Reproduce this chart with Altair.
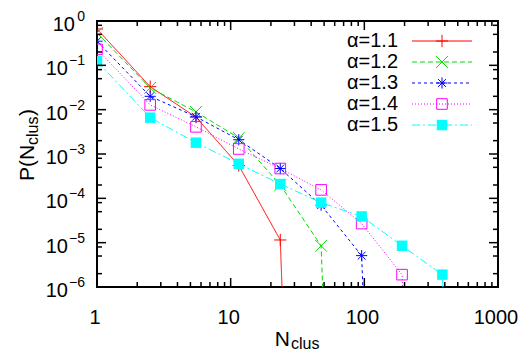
import altair as alt
import pandas as pd

# ---------------- data ----------------
series = ["α=1.1", "α=1.2", "α=1.3", "α=1.4", "α=1.5"]
colors = ["#ff0000", "#00dd00", "#0000ff", "#ff00ff", "#00ffff"]
dashes = [[1, 0], [5, 3], [3, 3], [1, 2], [8, 3, 2, 3]]

x_bins = [1, 2.5, 5.5, 11.5, 23.5, 47.5, 95.5, 191.5, 383.5, 767.5]
p_11 = [0.66, 0.033, 0.0068, 5.5e-4, 1.15e-5]
p_12 = [0.54, 0.031, 0.0089, 2.3e-3, 2.0e-4, 8.5e-6]
p_13 = [0.35, 0.020, 0.0069, 2.1e-3, 4.7e-4, 7.0e-5, 5.1e-6]
p_14 = [0.23, 0.0128, 0.0041, 1.3e-3, 4.7e-4, 1.55e-4, 2.7e-5, 1.9e-6]
p_15 = [0.125, 0.0066, 0.0018, 6.0e-4, 2.1e-4, 8.0e-5, 3.9e-5, 8.5e-6, 1.9e-6]
p_zero = 1e-30  # empty bin after the last point (line drops to the axis)

y_decades = [1e-6, 1e-5, 1e-4, 1e-3, 1e-2, 1e-1, 1]
y_exps = ["−6", "−5", "−4", "−3", "−2", "−1", "0"]
y_minor_mult = [2, 5, 8]
x_decades = [1, 10, 100, 1000]
x_labels = ["1", "10", "100", "1000"]
x_minor_mult = [2, 3, 4, 5, 6, 7, 8, 9]

W, H = 401, 266
FONT = "Liberation Sans"

all_vals = [p_11, p_12, p_13, p_14, p_15]
pts_rows, line_rows = [], []
for s, vals in zip(series, all_vals):
    for i, v in enumerate(vals):
        pts_rows.append({"series": s, "n": x_bins[i], "p": v})
        line_rows.append({"series": s, "n": x_bins[i], "p": v})
    line_rows.append({"series": s, "n": x_bins[len(vals)], "p": p_zero})
df_pts = pd.DataFrame(pts_rows)
df_line = pd.DataFrame(line_rows)
df_leg = pd.DataFrame({"series": series, "idx": list(range(len(series)))})

yt_rows = [{"v": d, "major": 1} for d in y_decades]
for d in y_decades[:-1]:
    for m in y_minor_mult:
        yt_rows.append({"v": d * m, "major": 0})
df_yt = pd.DataFrame(yt_rows)
xt_rows = [{"v": d, "major": 1} for d in x_decades]
for d in x_decades[:-1]:
    for m in x_minor_mult:
        xt_rows.append({"v": d * m, "major": 0})
df_xt = pd.DataFrame(xt_rows)
df_ylab = pd.DataFrame({"v": y_decades, "exp": y_exps})
df_xlab = pd.DataFrame({"v": x_decades, "lab": x_labels})

# ---------------- scales / encodings ----------------
xs = alt.Scale(type="log", domain=[1, 1000])
ys = alt.Scale(type="log", domain=[1e-6, 1])
X = alt.X("n:Q", scale=xs, axis=None)
Y = alt.Y("p:Q", scale=ys, axis=None)
color = alt.Color("series:N", scale=alt.Scale(domain=series, range=colors), legend=None)
dash = alt.StrokeDash("series:N", scale=alt.Scale(domain=series, range=dashes), legend=None)
shape_paths = [
    "M-1,0L1,0M0,-1L0,1",
    "M-1,-1L1,1M-1,1L1,-1",
    "M-1,0L1,0M0,-1L0,1M-0.7,-0.7L0.7,0.7M-0.7,0.7L0.7,-0.7",
    "square",
    "square",
]
shape = alt.Shape("series:N", scale=alt.Scale(domain=series, range=shape_paths), legend=None)
size = alt.Size("series:N", scale=alt.Scale(domain=series, range=[150, 100, 120, 100, 110]), legend=None)

lines = alt.Chart(df_line).mark_line(clip=True, strokeWidth=1).encode(
    x=X, y=Y, color=color, strokeDash=dash, order="n:Q"
)
pts_open = alt.Chart(df_pts).transform_filter(alt.datum.series != series[-1]).mark_point(
    filled=False, strokeWidth=1, opacity=1, clip=True
).encode(x=X, y=Y, color=color, shape=shape, size=size)
pts_fill = alt.Chart(df_pts).transform_filter(alt.datum.series == series[-1]).mark_square(
    filled=True, opacity=1, size=110, clip=True
).encode(x=X, y=Y, color=color)

# ---------------- legend ----------------
leg = alt.Chart(df_leg).transform_calculate(ly="20 + 21*datum.idx")
LY = alt.Y("ly:Q", scale=None, axis=None)
leg_lines = leg.mark_rule(strokeWidth=1).encode(
    x=alt.value(315), x2=alt.value(375), y=LY, color=color, strokeDash=dash
)
leg_open = leg.transform_filter(alt.datum.series != series[-1]).mark_point(
    filled=False, strokeWidth=1, opacity=1
).encode(x=alt.value(345), y=LY, color=color, shape=shape, size=size)
leg_fill = leg.transform_filter(alt.datum.series == series[-1]).mark_square(
    filled=True, opacity=1, size=110
).encode(x=alt.value(345), y=LY, color=color)
leg_text = leg.mark_text(align="right", baseline="middle", fontSize=20, font=FONT, color="black").encode(
    x=alt.value(301), y=LY, text="series:N"
)

# ---------------- ticks (inward, mirrored) ----------------
TY = alt.Y("v:Q", scale=ys, axis=None)
TX = alt.X("v:Q", scale=xs, axis=None)
yt = alt.Chart(df_yt).transform_calculate(len="datum.major ? 9 : 5")
yt_left = yt.transform_calculate(x0="0", x1="datum.len").mark_rule(strokeWidth=1.5, color="black").encode(
    x=alt.X("x0:Q", scale=None, axis=None), x2="x1:Q", y=TY)
yt_right = yt.transform_calculate(x0=str(W), x1=f"{W} - datum.len").mark_rule(strokeWidth=1.5, color="black").encode(
    x=alt.X("x0:Q", scale=None, axis=None), x2="x1:Q", y=TY)
xt = alt.Chart(df_xt).transform_calculate(len="datum.major ? 9 : 5")
xt_bot = xt.transform_calculate(y0=str(H), y1=f"{H} - datum.len").mark_rule(strokeWidth=1.5, color="black").encode(
    y=alt.Y("y0:Q", scale=None, axis=None), y2="y1:Q", x=TX)
xt_top = xt.transform_calculate(y0="0", y1="datum.len").mark_rule(strokeWidth=1.5, color="black").encode(
    y=alt.Y("y0:Q", scale=None, axis=None), y2="y1:Q", x=TX)

# ---------------- tick labels ----------------
ylab = alt.Chart(df_ylab)
ylab_base = ylab.transform_calculate(x10="length(datum.exp) > 1 ? -29 : -22").mark_text(
    align="right", baseline="alphabetic", fontSize=20, font=FONT, dy=10, color="black"
).encode(x=alt.X("x10:Q", scale=None, axis=None), y=TY, text=alt.value("10"))
ylab_exp = ylab.mark_text(
    align="right", baseline="alphabetic", fontSize=14, font=FONT, dy=0, color="black"
).encode(x=alt.value(-12), y=TY, text="exp:N")
xlab = alt.Chart(df_xlab).mark_text(
    align="center", baseline="alphabetic", fontSize=20, font=FONT, dx=-2, color="black"
).encode(x=TX, y=alt.value(303), text="lab:N")

# ---------------- axis titles ----------------
one = alt.Data(values=[{"k": 1}])
def txt(t, x, y, fs, align="left", angle=0):
    return alt.Chart(one).mark_text(
        text=t, align=align, baseline="alphabetic", fontSize=fs, font=FONT, angle=angle, color="black"
    ).encode(x=alt.value(x), y=alt.value(y))

xt_N = txt("N", 193, 325, 21, align="right")
xt_sub = txt("clus", 194, 328, 16)
yt_P = txt("P(N", -63, 160, 21, angle=270)
yt_sub = txt("clus", -59, 124, 16, angle=270)
yt_par = txt(")", -63, 95, 21, angle=270)

chart = alt.layer(
    lines, pts_open, pts_fill,
    yt_left, yt_right, xt_bot, xt_top,
    ylab_base, ylab_exp, xlab,
    leg_lines, leg_open, leg_fill, leg_text,
    xt_N, xt_sub, yt_P, yt_sub, yt_par,
).resolve_scale(x="independent", y="independent").properties(
    width=W, height=H,
    autosize=alt.AutoSizeParams(type="none"),
    padding={"left": 89, "top": 13, "right": 20, "bottom": 64},
    background="white",
).configure_view(stroke="black", strokeWidth=2)

chart.save("out.html", embed_options={"renderer": "svg", "actions": False})
